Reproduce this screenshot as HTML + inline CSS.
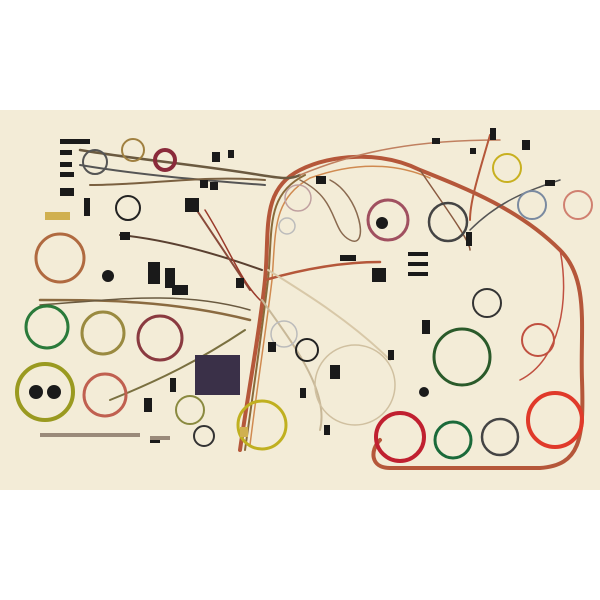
<!DOCTYPE html>
<html><head><meta charset="utf-8"><style>html,body{margin:0;padding:0;background:#fff}svg{display:block}</style></head>
<body>
<svg width="600" height="600" viewBox="0 0 600 600" xmlns="http://www.w3.org/2000/svg">
<rect x="0" y="0" width="600" height="600" fill="#ffffff"/>
<rect x="0" y="110" width="600" height="380" fill="#f3ecd7"/>
<g fill="none" stroke-linecap="round">
<path d="M240 450 C250 380 260 330 265 280 C270 230 260 190 300 170 C330 155 380 150 420 170 C470 190 520 210 560 250 C590 280 580 330 582 380 C584 440 580 465 540 468 L390 468 C370 468 370 450 380 440" stroke="#b5573a" stroke-width="4"/>
<path d="M245 450 C255 380 262 330 268 280 C273 230 265 195 305 175" stroke="#8a6a3a" stroke-width="2"/>
<path d="M250 445 C258 380 266 330 272 280 C276 230 272 200 310 178 C360 160 400 165 430 178" stroke="#d08a50" stroke-width="1.5"/>
<path d="M80 150 C140 160 200 165 260 175 C280 178 290 180 300 175" stroke="#6b5a40" stroke-width="2.5"/>
<path d="M80 165 C140 175 200 180 265 185" stroke="#555" stroke-width="2"/>
<path d="M90 185 C150 185 200 175 265 180" stroke="#7a6040" stroke-width="2"/>
<path d="M120 235 C170 240 220 255 262 270" stroke="#5a4030" stroke-width="2"/>
<path d="M40 300 C100 300 170 300 250 320" stroke="#8a6a40" stroke-width="2.5"/>
<path d="M40 305 C110 300 180 290 250 310" stroke="#6a5a40" stroke-width="1.5"/>
<path d="M265 280 C300 270 340 262 380 262" stroke="#b5573a" stroke-width="2.5"/>
<path d="M268 270 C300 290 350 320 390 360" stroke="#d8c8a8" stroke-width="2"/>
<path d="M262 300 C290 340 330 390 320 430" stroke="#c8b898" stroke-width="2"/>
<path d="M110 400 C160 380 200 360 245 330" stroke="#7a7040" stroke-width="2"/>
<path d="M300 175 C360 150 420 140 500 140" stroke="#c08060" stroke-width="1.5"/>
<path d="M300 180 C340 200 330 230 350 240 C370 250 360 195 330 180" stroke="#8a6a50" stroke-width="1.5"/>
<path d="M420 170 C440 200 470 240 470 250" stroke="#8a5a40" stroke-width="1.5"/>
<path d="M490 135 C480 170 470 200 470 220" stroke="#b5573a" stroke-width="2"/>
<path d="M470 230 C500 200 530 190 560 180" stroke="#555" stroke-width="1.5"/>
<path d="M190 200 C210 230 230 260 250 290" stroke="#8a4a3a" stroke-width="2"/>
<path d="M205 210 C230 250 240 280 260 300" stroke="#9a3a2a" stroke-width="1.5"/>
<path d="M560 250 C570 300 560 360 520 380" stroke="#c05040" stroke-width="1.5"/>
<circle cx="60" cy="258" r="24" stroke="#b06a40" stroke-width="3"/>
<circle cx="47" cy="327" r="21" stroke="#2a7a3a" stroke-width="3"/>
<circle cx="103" cy="333" r="21" stroke="#9a8a40" stroke-width="3"/>
<circle cx="160" cy="338" r="22" stroke="#8a3a40" stroke-width="3"/>
<circle cx="45" cy="392" r="28" stroke="#9a9a20" stroke-width="4"/>
<circle cx="105" cy="395" r="21" stroke="#c06050" stroke-width="3"/>
<circle cx="95" cy="162" r="12" stroke="#555" stroke-width="2"/>
<circle cx="133" cy="150" r="11" stroke="#a08040" stroke-width="2"/>
<circle cx="165" cy="160" r="10" stroke="#8a2a3a" stroke-width="4"/>
<circle cx="128" cy="208" r="12" stroke="#222" stroke-width="2"/>
<circle cx="388" cy="220" r="20" stroke="#a05060" stroke-width="3"/>
<circle cx="448" cy="222" r="19" stroke="#444" stroke-width="2.5"/>
<circle cx="507" cy="168" r="14" stroke="#c8b020" stroke-width="2"/>
<circle cx="532" cy="205" r="14" stroke="#7a8aa0" stroke-width="2"/>
<circle cx="578" cy="205" r="14" stroke="#d08070" stroke-width="2"/>
<circle cx="487" cy="303" r="14" stroke="#333" stroke-width="2"/>
<circle cx="462" cy="357" r="28" stroke="#2a5a2a" stroke-width="3"/>
<circle cx="538" cy="340" r="16" stroke="#c05040" stroke-width="2"/>
<circle cx="400" cy="437" r="24" stroke="#c02030" stroke-width="4"/>
<circle cx="453" cy="440" r="18" stroke="#1a6a3a" stroke-width="3"/>
<circle cx="500" cy="437" r="18" stroke="#444" stroke-width="2.5"/>
<circle cx="555" cy="420" r="27" stroke="#e03a2a" stroke-width="4"/>
<circle cx="262" cy="425" r="24" stroke="#c0b020" stroke-width="3"/>
<circle cx="204" cy="436" r="10" stroke="#333" stroke-width="2"/>
<circle cx="190" cy="410" r="14" stroke="#8a8a40" stroke-width="2"/>
<circle cx="307" cy="350" r="11" stroke="#222" stroke-width="2"/>
<circle cx="298" cy="198" r="13" stroke="#c0a0a0" stroke-width="1.5"/>
<circle cx="287" cy="226" r="8" stroke="#bbb" stroke-width="1.5"/>
<circle cx="355" cy="385" r="40" stroke="#d0c0a0" stroke-width="1.5"/>
<circle cx="284" cy="334" r="13" stroke="#bbb" stroke-width="1.5"/>
</g>
<g fill="#1a1a1a">
<rect x="195" y="355" width="45" height="40" fill="#3a3048"/>
<circle cx="36" cy="392" r="7"/><circle cx="54" cy="392" r="7"/>
<circle cx="108" cy="276" r="6"/><circle cx="382" cy="223" r="6"/><circle cx="424" cy="392" r="5"/>
<rect x="148" y="262" width="12" height="22"/><rect x="165" y="268" width="10" height="20"/>
<rect x="172" y="285" width="16" height="10"/>
<rect x="372" y="268" width="14" height="14"/>
<rect x="185" y="198" width="14" height="14"/>
<rect x="212" y="152" width="8" height="10"/><rect x="228" y="150" width="6" height="8"/>
<rect x="200" y="180" width="8" height="8"/><rect x="210" y="182" width="8" height="8"/>
<rect x="316" y="176" width="10" height="8"/><rect x="340" y="255" width="16" height="6"/>
<rect x="60" y="188" width="14" height="8"/><rect x="84" y="198" width="6" height="18"/>
<rect x="120" y="232" width="10" height="8"/><rect x="236" y="278" width="8" height="10"/>
<rect x="144" y="398" width="8" height="14"/><rect x="170" y="378" width="6" height="14"/>
<rect x="324" y="425" width="6" height="10"/><rect x="330" y="365" width="10" height="14"/>
<rect x="300" y="388" width="6" height="10"/><rect x="388" y="350" width="6" height="10"/>
<rect x="422" y="320" width="8" height="14"/><rect x="408" y="252" width="20" height="4"/>
<rect x="408" y="262" width="20" height="4"/><rect x="408" y="272" width="20" height="4"/>
<rect x="466" y="232" width="6" height="14"/><rect x="545" y="180" width="10" height="6"/>
<rect x="522" y="140" width="8" height="10"/><rect x="490" y="128" width="6" height="12"/>
<rect x="432" y="138" width="8" height="6"/><rect x="470" y="148" width="6" height="6"/>
<rect x="268" y="342" width="8" height="10"/><rect x="150" y="438" width="10" height="5"/>
<rect x="60" y="139" width="30" height="5"/><rect x="60" y="150" width="12" height="5"/>
<rect x="60" y="162" width="12" height="5"/><rect x="60" y="172" width="14" height="5"/>
</g>
<g fill="#d0b050"><rect x="45" y="212" width="25" height="8"/><rect x="240" y="427" width="8" height="10"/></g>
<g fill="#9a8a7a"><rect x="40" y="433" width="100" height="4"/><rect x="150" y="436" width="20" height="4"/></g>
<text x="0" y="0" font-family="Liberation Sans, sans-serif" font-size="1" fill="#f3ecd7">wiring harness</text>
</svg>
</body></html>
